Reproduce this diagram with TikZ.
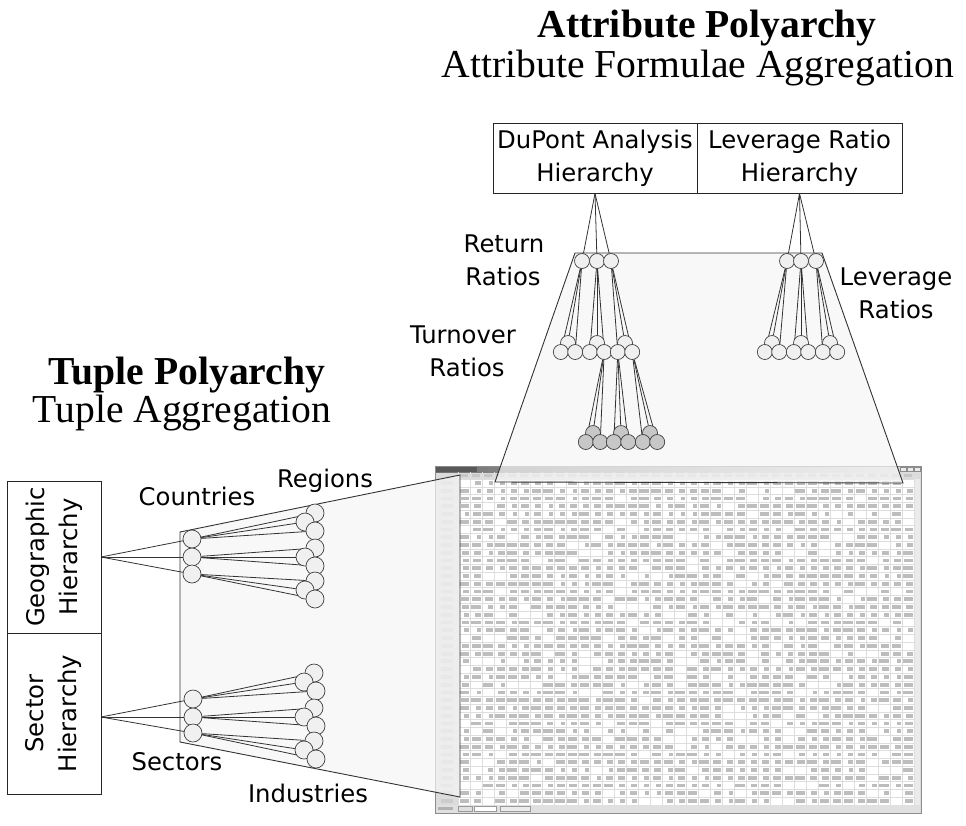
\documentclass[tikz,border=0pt]{standalone}
\usepackage{fontspec}
\setmainfont{Liberation Serif}
\newfontfamily\labfont{DejaVu Sans}
\pgfdeclarelayer{sheet}
\pgfdeclarelayer{edges}
\pgfsetlayers{sheet,edges,main}
\tikzset{
  link/.style={draw=black!80, line width=0.8pt},
  leaf/.style={circle, draw=black!75, fill=black!6, line width=0.7pt, inner sep=0pt, minimum size=15pt},
  shadeleaf/.style={leaf, fill=black!22},
  bigleaf/.style={leaf, minimum size=18pt},
  hierbox/.style={draw=black!85, line width=0.9pt, inner sep=0pt, align=center, font=\labfont\fontsize{24.3}{33}\selectfont},
  lab/.style={font=\labfont\fontsize{24.3}{33}\selectfont, anchor=base, inner sep=0pt},
  maintitle/.style={font=\fontsize{39.6}{44}\selectfont\bfseries, anchor=base, inner sep=0pt},
  subtitle/.style={font=\fontsize{39.6}{44}\selectfont, anchor=base, inner sep=0pt},
  plane/.style={draw=black!80, line width=0.9pt, fill=black!4, fill opacity=0.7},
  cellink/.style={fill=black!26},
}
\begin{document}
\begin{tikzpicture}[x=1pt,y=-1pt]
  \useasboundingbox (0,0) rectangle (966,825);
  % titles
  \node[maintitle] (attrtitle) at (707,37) {Attribute Polyarchy};
  \node[subtitle] (attrsub) at (698,77) {Attribute Formulae Aggregation};
  \node[maintitle] (tupletitle) at (187,384) {Tuple Polyarchy};
  \node[subtitle] (tuplesub) at (182,422) {Tuple Aggregation};

  % spreadsheet
  \begin{pgfonlayer}{sheet}
    \fill[black!14] (435,466) rectangle (921,813);
    \shade[left color=black!55, right color=black!12] (436,466.5) rectangle (920,472);
    \fill[black!65] (436,466.5) rectangle (477,472);
    \foreach \k in {0,1,2}
      \draw[black!45, fill=black!8, line width=0.4pt] ({900+7*\k},467.2) rectangle ++(6,4.3);
    \fill[white] (458,479) rectangle (914,805);
    \fill[black!8] (914,479) rectangle (920,805);
    % grid
    \foreach \c in {0,...,38}
      \draw[black!13, line width=0.4pt] ({458+12*\c},472) -- ({458+12*\c},805);
    \foreach \r in {0,...,42}
      \draw[black!13, line width=0.4pt] (436,{479+7.76*\r}) -- (914,{479+7.76*\r});
    % cell contents
    \pgfmathsetseed{11}
    \foreach \r in {0,...,41}{
      \foreach \c in {0,...,37}{
        \pgfmathsetmacro\cw{4+6.5*rnd}
        \pgfmathsetmacro\cp{rnd}
        \ifdim\cp pt<0.86pt
          \fill[cellink] ({458+12*\c+11-\cw},{479+7.76*\r+2}) rectangle ++(\cw,3.8);
        \fi
      }
      \fill[black!20] (441,{479+7.76*\r+2}) rectangle ++(12,3.8);
    }
    \foreach \c in {0,...,37}
      \fill[black!22] ({458+12*\c+2},474) rectangle ++(8,2.5);
    % status bar
    \fill[black!12] (436,805) rectangle (920,812.5);
    \fill[black!30] (438,807) rectangle ++(15,3);
    \draw[black!40, fill=white, line width=0.4pt] (474,806.5) rectangle (496,811.5);
    \draw[black!40, fill=black!8, line width=0.4pt] (500,806.5) rectangle (530,811.5);
    \draw[black!40, line width=0.4pt] (458,806.5) rectangle (472,811.5);
    \draw[black!45, line width=0.6pt] (435,466) rectangle (921,813);
    % planes
    \draw[plane] (575,253) -- (822,253) -- (903,483) -- (495,482) -- cycle;
    \draw[plane] (180,532) -- (460,475) -- (460,797) -- (180,742) -- cycle;
  \end{pgfonlayer}

  % attribute hierarchy boxes
  \node[hierbox, minimum width=204pt, minimum height=70pt] (dupont) at (595,158) {DuPont Analysis\\Hierarchy};
  \node[hierbox, minimum width=205pt, minimum height=70pt] (leverage) at (799.5,158) {Leverage Ratio\\Hierarchy};

  % return ratios and turnover ratios
  \foreach \n/\x in {1/582,2/597,3/611}
    \node[leaf] (r\n) at (\x,261) {};
  \foreach \n/\x in {1/568,2/597,3/625}{
    \node[leaf] (t\n a) at (\x,343) {};
    \node[leaf] (t\n b) at (\x-7.2,352) {};
    \node[leaf] (t\n c) at (\x+7.2,352) {};
  }
  \foreach \n/\x in {1/593,2/621,3/650}{
    \node[shadeleaf] (u\n a) at (\x,433) {};
    \node[shadeleaf] (u\n b) at (\x-7.2,442) {};
    \node[shadeleaf] (u\n c) at (\x+7.2,442) {};
  }
  % leverage ratios
  \foreach \n/\x in {1/787,2/801,3/816}
    \node[leaf] (l\n) at (\x,261) {};
  \foreach \n/\x in {1/772,2/801,3/830}{
    \node[leaf] (v\n a) at (\x,343) {};
    \node[leaf] (v\n b) at (\x-7.2,352) {};
    \node[leaf] (v\n c) at (\x+7.2,352) {};
  }

  % tuple hierarchy boxes
  \node[hierbox, minimum width=94pt, minimum height=152pt] (geo) at (54,557) {};
  \node[lab, rotate=90, anchor=center, align=center] (geolabel) at (geo) {Geographic\\Hierarchy};
  \node[hierbox, minimum width=94pt, minimum height=161pt] (sector) at (54,713.5) {};
  \node[lab, rotate=90, anchor=center, align=center] (sectorlabel) at (sector) {Sector\\Hierarchy};
  \coordinate (geohub) at (101,557);
  \coordinate (sechub) at (101,717);

  % countries and regions
  \foreach \n/\y in {1/539,2/557,3/574}
    \node[bigleaf] (k\n) at (192,\y) {};
  \foreach \n/\y in {1/522,2/557,3/590}{
    \node[bigleaf] (g\n a) at (315,\y-9) {};
    \node[bigleaf] (g\n b) at (305,\y) {};
    \node[bigleaf] (g\n c) at (315,\y+9) {};
  }
  % sectors and industries
  \foreach \n/\y in {1/699,2/717,3/733}
    \node[bigleaf] (s\n) at (193,\y) {};
  \foreach \n/\y in {1/682,2/717,3/750}{
    \node[bigleaf] (i\n a) at (314,\y-9) {};
    \node[bigleaf] (i\n b) at (304,\y) {};
    \node[bigleaf] (i\n c) at (316,\y+9) {};
  }

  % connectors
  \begin{pgfonlayer}{edges}
    \foreach \n in {1,2,3}{
      \draw[link] (dupont.south) -- (r\n);
      \draw[link] (leverage.south) -- (l\n);
      \draw[link] (geohub) -- (k\n);
      \draw[link] (sechub) -- (s\n);
      \foreach \s in {a,b,c}{
        \draw[link] (r\n) -- (t\n\s);
        \draw[link] (l\n) -- (v\n\s);
        \draw[link] (k\n) -- (g\n\s);
        \draw[link] (s\n) -- (i\n\s);
      }
    }
    \foreach \s in {a,b,c}{
      \draw[link] (t2c) -- (u1\s);
      \draw[link] (t3b) -- (u2\s);
      \draw[link] (t3c) -- (u3\s);
    }
  \end{pgfonlayer}

  % labels
  \node[lab] (retlabel) at (504,252) {Return};
  \node[lab] (retlabelb) at (503,285) {Ratios};
  \node[lab] (turnlabel) at (463,343) {Turnover};
  \node[lab] (turnlabelb) at (467,376) {Ratios};
  \node[lab] (levlabel) at (896,285) {Leverage};
  \node[lab] (levlabelb) at (896,318) {Ratios};
  \node[lab] (countrylabel) at (197,505) {Countries};
  \node[lab] (regionlabel) at (325,487) {Regions};
  \node[lab] (sectorslabel) at (177,770) {Sectors};
  \node[lab] (industrylabel) at (308,802) {Industries};
\end{tikzpicture}
\end{document}
